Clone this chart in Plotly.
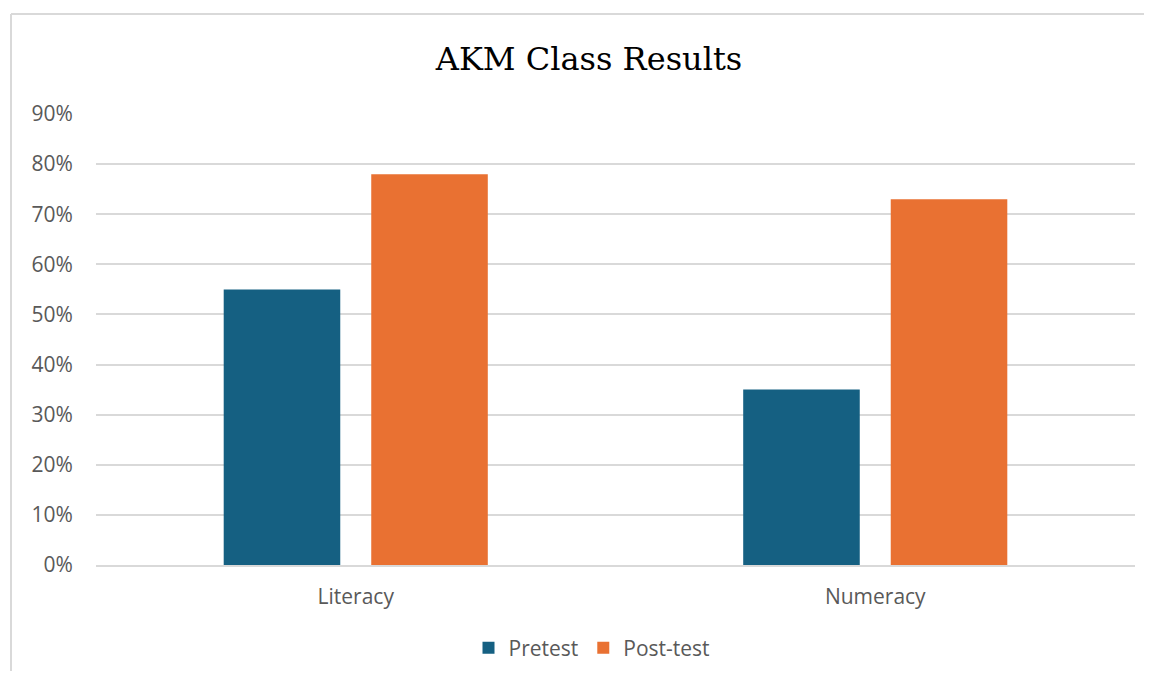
import plotly.graph_objects as go

categories = ["Literacy", "Numeracy"]
pretest = [0.55, 0.35]
posttest = [0.78, 0.73]
series_names = ["Pretest", "Post-test"]
tick_vals = [0, 0.1, 0.2, 0.3, 0.4, 0.5, 0.6, 0.7, 0.8, 0.9]
tick_text = ["0%", "10%", "20%", "30%", "40%", "50%", "60%", "70%", "80%", "90%"]

OFF = 8  # page body margin offset
W, H = 1152 - 2 * OFF, 679 - 2 * OFF
# target screen positions
px_left, px_right, px_top, px_bottom = 96, 1135, 114, 565
ml = px_left - OFF
mr = W - (px_right - OFF)
mt = px_top - OFF
mb = H - (px_bottom - OFF)
pw = W - ml - mr
ph = H - mt - mb

def py(screen_y):
    return (px_bottom - screen_y) / ph

def pxx(screen_x):
    return (screen_x - px_left) / pw

fig = go.Figure()
fig.add_trace(go.Bar(x=categories, y=pretest, name=series_names[0],
                     marker=dict(color="#156082", line=dict(width=0))))
fig.add_trace(go.Bar(x=categories, y=posttest, name=series_names[1],
                     marker=dict(color="#E97132", line=dict(width=0))))

border = dict(color="#d9d9d9", width=2)
fig.add_shape(type="line", xref="paper", yref="paper",
              x0=pxx(11), x1=pxx(11), y0=py(700), y1=py(14), line=border, layer="below")
fig.add_shape(type="line", xref="paper", yref="paper",
              x0=pxx(11), x1=pxx(1200), y0=py(14), y1=py(14), line=border, layer="below")

fig.update_layout(
    width=W, height=H,
    margin=dict(l=ml, r=mr, t=mt, b=mb, autoexpand=False),
    paper_bgcolor="white", plot_bgcolor="white",
    title=dict(text="AKM Class Results", x=(589 - OFF) / W, xanchor="center",
               y=(H - (59 - OFF)) / H, yanchor="middle",
               font=dict(family="DejaVu Serif, Liberation Serif, serif", size=32, color="#000000")),
    barmode="group", bargap=0.432, bargroupgap=0.21,
    font=dict(family="Open Sans, Liberation Sans, sans-serif", color="#595959", size=21),
    xaxis=dict(showgrid=False, showline=True, linecolor="#d9d9d9", linewidth=1.5,
               ticks="outside", ticklen=12, tickcolor="rgba(0,0,0,0)",
               tickfont=dict(size=21, color="#595959"), fixedrange=True),
    yaxis=dict(range=[0, 0.9], tickvals=tick_vals, ticktext=tick_text,
               showgrid=True, gridcolor="#d9d9d9", gridwidth=1.5, zeroline=False,
               ticks="outside", ticklen=18, tickcolor="rgba(0,0,0,0)",
               tickfont=dict(size=21, color="#595959"), fixedrange=True),
    legend=dict(orientation="h", x=pxx(592), xanchor="center", y=py(648), yanchor="middle",
                font=dict(size=21, color="#595959"), itemwidth=30, traceorder="normal"),
    showlegend=True,
)

fig.write_html("out.html")
